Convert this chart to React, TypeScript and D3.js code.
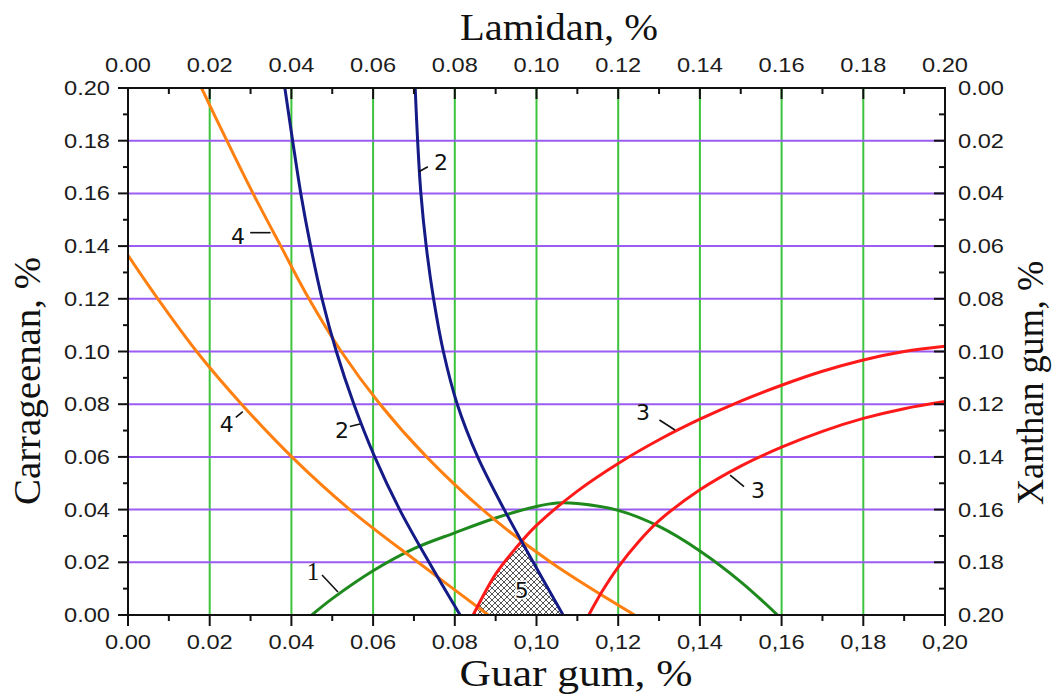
import React from 'react';
import * as d3 from 'd3';

// ---------- axis ticks ----------
const majorTicks = [0, 0.02, 0.04, 0.06, 0.08, 0.1, 0.12, 0.14, 0.16, 0.18, 0.2];
const minorTicks = [0.01, 0.03, 0.05, 0.07, 0.09, 0.11, 0.13, 0.15, 0.17, 0.19];
const gridValues = [0.02, 0.04, 0.06, 0.08, 0.1, 0.12, 0.14, 0.16, 0.18];
const bottomTickLabels = ['0.00', '0.02', '0.04', '0.06', '0.08', '0,10', '0,12', '0,14', '0,16', '0,18', '0,20'];
const topTickLabels = ['0.00', '0.02', '0.04', '0.06', '0.08', '0.10', '0.12', '0.14', '0.16', '0.18', '0.20'];
const leftTickLabels = ['0.00', '0.02', '0.04', '0.06', '0.08', '0.10', '0.12', '0.14', '0.16', '0.18', '0.20'];
const rightTickLabels = ['0.00', '0.02', '0.04', '0.06', '0.08', '0.10', '0.12', '0.14', '0.16', '0.18', '0.20'];

// ---------- curve 1 (green) ----------
const curve1Guar = [0.045, 0.05, 0.06, 0.07, 0.08, 0.09, 0.1, 0.105, 0.11, 0.12, 0.13, 0.14, 0.15, 0.159];
const curve1Carr = [0, 0.0062, 0.0168, 0.0252, 0.0312, 0.0368, 0.0412, 0.0425, 0.0423, 0.0397, 0.0336, 0.0243, 0.0126, 0];

// ---------- curve 2 (navy), two branches (given along carrageenan) ----------
const curve2aCarr = [0.2, 0.18, 0.16, 0.14, 0.12, 0.1, 0.08, 0.06, 0.04, 0.02, 0];
const curve2aGuar = [0.0384, 0.0403, 0.0423, 0.0447, 0.0475, 0.051, 0.0553, 0.0604, 0.0665, 0.0737, 0.0813];
const curve2bCarr = [0.2, 0.18, 0.16, 0.14, 0.12, 0.1, 0.08, 0.06, 0.04, 0.02, 0];
const curve2bGuar = [0.0703, 0.0709, 0.0717, 0.073, 0.0748, 0.0772, 0.0806, 0.0856, 0.0921, 0.0992, 0.1065];

// ---------- curve 3 (red), two branches ----------
const curve3aGuar = [0.0845, 0.09, 0.095, 0.1, 0.11, 0.12, 0.13, 0.14, 0.15, 0.16, 0.17, 0.18, 0.19, 0.2];
const curve3aCarr = [0, 0.0155, 0.0255, 0.034, 0.047, 0.0575, 0.0665, 0.0743, 0.0812, 0.0872, 0.0925, 0.0968, 0.1, 0.102];
const curve3bGuar = [0.1128, 0.116, 0.12, 0.125, 0.13, 0.14, 0.15, 0.16, 0.17, 0.18, 0.19, 0.2];
const curve3bCarr = [0, 0.0088, 0.0182, 0.0278, 0.0358, 0.0475, 0.0565, 0.0637, 0.0697, 0.0746, 0.0783, 0.081];

// ---------- curve 4 (orange), two branches (given along carrageenan) ----------
const curve4aCarr = [0.2, 0.18, 0.16, 0.14, 0.12, 0.1, 0.08, 0.06, 0.04, 0.02, 0];
const curve4aGuar = [0.018, 0.0242, 0.0306, 0.0374, 0.0443, 0.0522, 0.0617, 0.0731, 0.0868, 0.1035, 0.124];
const curve4bCarr = [0.1365, 0.12, 0.1, 0.08, 0.06, 0.04, 0.02, 0];
const curve4bGuar = [0, 0.0073, 0.0168, 0.0278, 0.0401, 0.0543, 0.071, 0.0882];

// ---------- region 5 (hatched) ----------
const region5Guar = [0.0845, 0.09, 0.095, 0.0968, 0.0992, 0.1065];
const region5Carr = [0, 0.0155, 0.0255, 0.0273, 0.02, 0];

// ---------- curve labels (data units) ----------
const labelText = ['1', '2', '2', '3', '3', '4', '4'];
const labelGuar = [0.0453, 0.0766, 0.0524, 0.1261, 0.1542, 0.0269, 0.0242];
const labelCarr = [0.0163, 0.1719, 0.0702, 0.077, 0.0474, 0.1437, 0.0725];
const leaderFromGuar = [0.0475, 0.0734, 0.0543, 0.1301, 0.1508, 0.0299, 0.0264];
const leaderFromCarr = [0.0152, 0.1701, 0.0715, 0.074, 0.0487, 0.1451, 0.075];
const leaderToGuar = [0.0514, 0.0712, 0.0568, 0.1339, 0.1474, 0.0349, 0.0281];
const leaderToCarr = [0.0087, 0.1682, 0.0725, 0.0702, 0.0531, 0.1451, 0.0772];
const region5LabelGuar = 0.0964;
const region5LabelCarr = 0.0095;

const W = 1055;
const H = 695;

export default function App() {
  const x = d3.scaleLinear().domain([0, 0.2]).range([128, 945]);
  const y = d3.scaleLinear().domain([0, 0.2]).range([615, 88]);
  const yR = d3.scaleLinear().domain([0, 0.2]).range([88, 615]);
  const [x0, x1] = x.range();
  const [y0, y1] = y.range();

  const line = d3
    .line<[number, number]>()
    .x((d) => x(d[0]))
    .y((d) => y(d[1]))
    .curve(d3.curveCatmullRom.alpha(0.5));
  const pts = (g: number[], c: number[]) => g.map((v, i) => [v, c[i]] as [number, number]);

  const tickFont = "'Liberation Sans', Arial, sans-serif";
  const titleFont = "'Liberation Serif', 'Times New Roman', serif";
  const txtColor = '#1c1c1c';
  const green = '#1e8a1e';
  const navy = '#141a86';
  const red = '#ff1a1a';
  const orange = '#ff8010';

  const curves = [
    { d: line(pts(curve1Guar, curve1Carr)), c: green },
    { d: line(pts(curve4aGuar, curve4aCarr)), c: orange },
    { d: line(pts(curve4bGuar, curve4bCarr)), c: orange },
    { d: line(pts(curve3aGuar, curve3aCarr)), c: red },
    { d: line(pts(curve3bGuar, curve3bCarr)), c: red },
    { d: line(pts(curve2aGuar, curve2aCarr)), c: navy },
    { d: line(pts(curve2bGuar, curve2bCarr)), c: navy },
  ];

  return (
    <svg
      width={W}
      height={H}
      style={{ position: 'absolute', left: 0, top: 0, background: '#fff' }}
      xmlns="http://www.w3.org/2000/svg"
    >
      <defs>
        <pattern id="hatch" width={6} height={6} patternUnits="userSpaceOnUse">
          <rect width={6} height={6} fill="#fff" />
          <path d="M0,0 L6,6 M6,0 L0,6" stroke="#555" strokeWidth={1} />
        </pattern>
        <clipPath id="plotClip">
          <rect x={x0} y={y1} width={x1 - x0} height={y0 - y1} />
        </clipPath>
      </defs>
      <rect width={W} height={H} fill="#fff" />

      {/* grid */}
      {gridValues.map((v) => (
        <line key={'gv' + v} x1={x(v)} x2={x(v)} y1={y1} y2={y0} stroke="#3cc43c" strokeWidth={2} />
      ))}
      {gridValues.map((v) => (
        <line key={'gh' + v} x1={x0} x2={x1} y1={y(v)} y2={y(v)} stroke="#9b5cf2" strokeWidth={2} />
      ))}

      {/* hatched region 5 */}
      <path d={line(pts(region5Guar, region5Carr)) + 'Z'} fill="url(#hatch)" stroke="none" />

      {/* curves */}
      <g clipPath="url(#plotClip)">
        {curves.map((c, i) => (
          <path key={i} d={c.d || ''} fill="none" stroke={c.c} strokeWidth={3} />
        ))}
      </g>

      {/* curve labels */}
      {labelText.map((t, i) => (
        <g key={'lab' + i}>
          <line
            x1={x(leaderFromGuar[i])}
            y1={y(leaderFromCarr[i])}
            x2={x(leaderToGuar[i])}
            y2={y(leaderToCarr[i])}
            stroke="#111"
            strokeWidth={1.6}
          />
          <text
            x={x(labelGuar[i])}
            y={y(labelCarr[i]) + 8}
            textAnchor="middle"
            fontFamily={i === 0 ? titleFont : "'DejaVu Sans', Verdana, sans-serif"}
            fontSize={i === 0 ? 25 : 22}
            fill="#111"
          >
            {t}
          </text>
        </g>
      ))}
      <text
        x={x(region5LabelGuar)}
        y={y(region5LabelCarr) + 8}
        textAnchor="middle"
        fontFamily="'DejaVu Sans', Verdana, sans-serif"
        fontSize={22}
        fill="#111"
        stroke="#fff"
        strokeWidth={3}
        style={{ paintOrder: 'stroke' }}
      >
        5
      </text>

      {/* axes frame */}
      <rect x={x0} y={y1} width={x1 - x0} height={y0 - y1} fill="none" stroke="#111" strokeWidth={2} />

      {/* ticks */}
      {majorTicks.map((v) => (
        <g key={'mt' + v} stroke="#111" strokeWidth={2}>
          <line x1={x(v)} x2={x(v)} y1={y0} y2={y0 + 11} />
          <line x1={x(v)} x2={x(v)} y1={y1} y2={y1 + 11} />
          <line x1={x0 - 10} x2={x0} y1={y(v)} y2={y(v)} />
          <line x1={x1 - 11} x2={x1} y1={yR(v)} y2={yR(v)} />
        </g>
      ))}
      {minorTicks.map((v) => (
        <g key={'mn' + v} stroke="#111" strokeWidth={2}>
          <line x1={x(v)} x2={x(v)} y1={y0} y2={y0 + 6} />
          <line x1={x(v)} x2={x(v)} y1={y1} y2={y1 + 6} />
          <line x1={x0 - 5} x2={x0} y1={y(v)} y2={y(v)} />
          <line x1={x1 - 6} x2={x1} y1={yR(v)} y2={yR(v)} />
        </g>
      ))}

      {/* tick labels */}
      <g fontFamily={tickFont} fontSize={20} fill={txtColor}>
        {majorTicks.map((v, i) => (
          <text key={'bl' + i} x={x(v)} y={649} textAnchor="middle" textLength={46} lengthAdjust="spacingAndGlyphs">
            {bottomTickLabels[i]}
          </text>
        ))}
        {majorTicks.map((v, i) => (
          <text key={'tl' + i} x={x(v)} y={72} textAnchor="middle" textLength={46} lengthAdjust="spacingAndGlyphs">
            {topTickLabels[i]}
          </text>
        ))}
        {majorTicks.map((v, i) => (
          <text key={'ll' + i} x={110} y={y(v) + 7} textAnchor="end" textLength={46} lengthAdjust="spacingAndGlyphs">
            {leftTickLabels[i]}
          </text>
        ))}
        {majorTicks.map((v, i) => (
          <text key={'rl' + i} x={958} y={yR(v) + 7} textAnchor="start" textLength={46} lengthAdjust="spacingAndGlyphs">
            {rightTickLabels[i]}
          </text>
        ))}
      </g>

      {/* axis titles */}
      <g fontFamily={titleFont} fontSize={37} fill="#111">
        <text x={559} y={40} textAnchor="middle" textLength={198} lengthAdjust="spacingAndGlyphs">
          Lamidan, %
        </text>
        <text x={576} y={686} textAnchor="middle" textLength={233} lengthAdjust="spacingAndGlyphs">
          Guar gum, %
        </text>
        <text transform="translate(40,381) rotate(-90)" textAnchor="middle" textLength={248} lengthAdjust="spacingAndGlyphs">
          Carrageenan, %
        </text>
        <text transform="translate(1043,383) rotate(-90)" textAnchor="middle" textLength={244} lengthAdjust="spacingAndGlyphs">
          Xanthan gum, %
        </text>
      </g>
    </svg>
  );
}
